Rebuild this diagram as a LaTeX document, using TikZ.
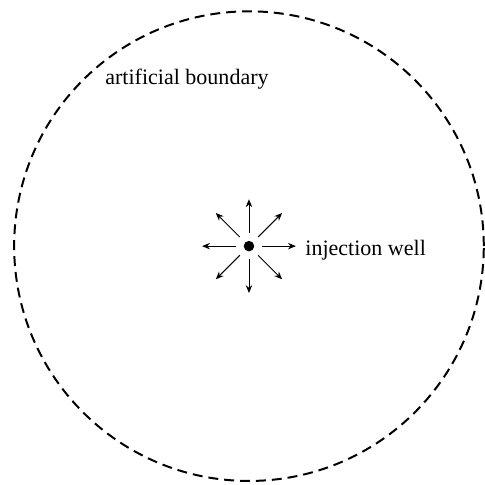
\documentclass[tikz,border=0pt]{standalone}
\usepackage{fontspec}
\setmainfont{Liberation Serif}
\usepackage{tikz}
\usetikzlibrary{arrows.meta, calc}
\tikzset{
  boundary/.style={draw, line width=1.4pt, dash pattern=on 7pt off 4.2pt},
  welldot/.style={circle, fill, inner sep=0pt, minimum size=0.26cm},
  flow/.style={-{Stealth[length=5.5pt, width=4.5pt]}, line width=0.65pt},
  lbl/.style={font=\fontsize{15.5}{18}\selectfont, inner sep=0pt}
}

\begin{document}
\begin{tikzpicture}
  \useasboundingbox (0,0) rectangle (12,12);

  % Artificial boundary
  \draw[boundary] (6.16,5.91) circle (5.81);
  \node[lbl, anchor=base west] (bnd) at (2.6,9.92) {artificial boundary};

  % Injection well
  \node[welldot] (well) at (6.16,5.91) {};
  \foreach \a in {0,45,...,315}
    \draw[flow] ($(well)+(\a:0.32)$) -- ($(well)+(\a:1.16)$);
  \node[lbl, anchor=base west] (inj) at (7.55,5.69) {injection well};
\end{tikzpicture}
\end{document}
